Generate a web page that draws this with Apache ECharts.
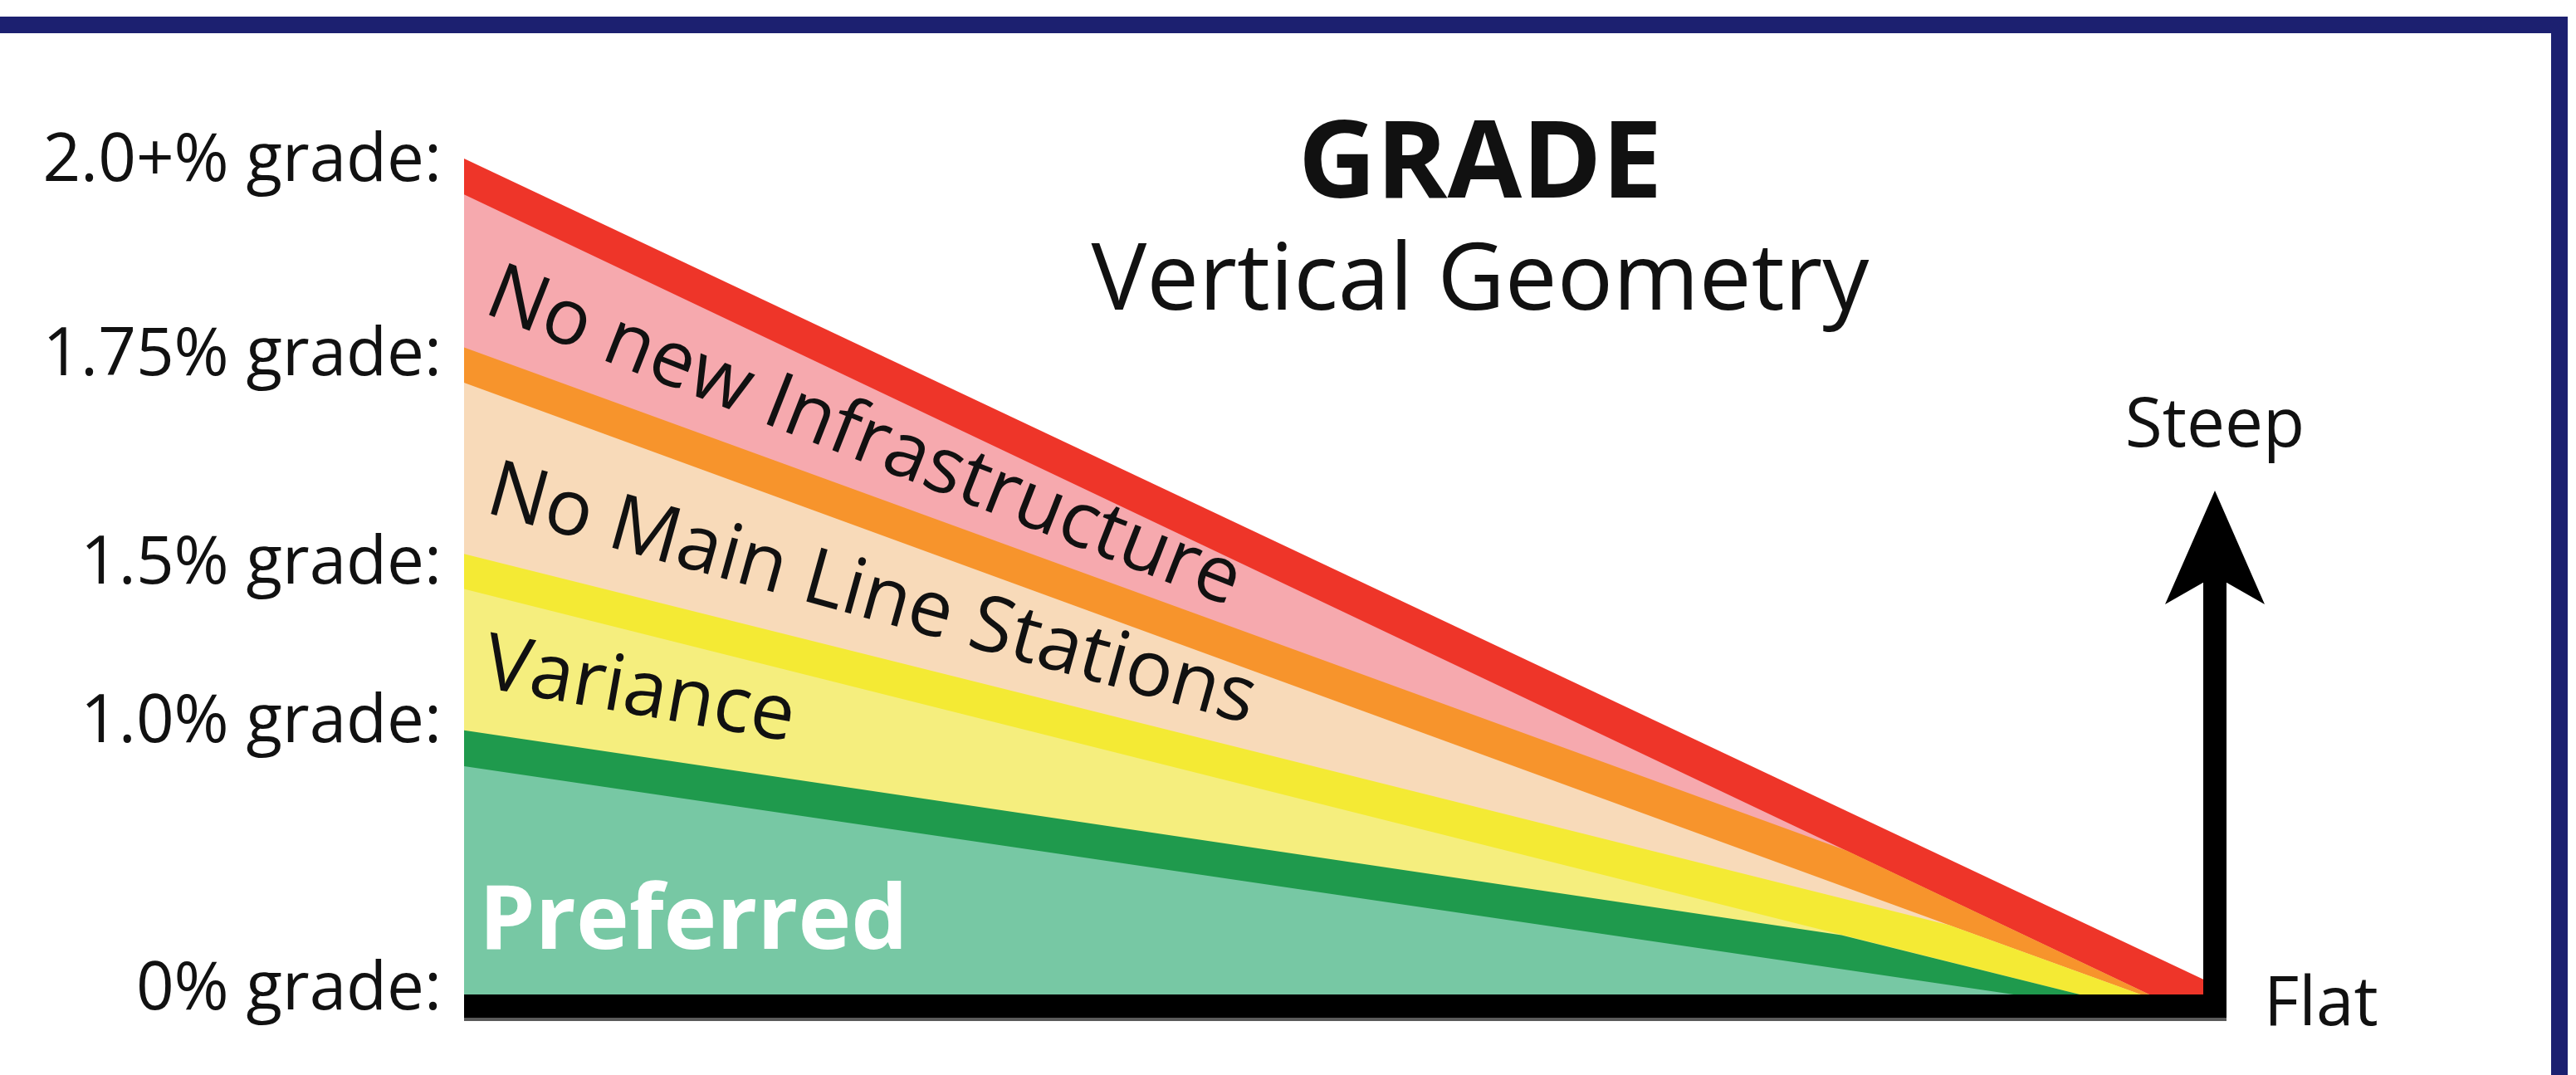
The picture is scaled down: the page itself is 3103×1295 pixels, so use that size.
<!DOCTYPE html>
<html>
<head>
<meta charset="utf-8">
<script src="https://cdn.jsdelivr.net/npm/echarts@6/dist/echarts.min.js"></script>
<style>
  html, body { margin: 0; padding: 0; background: #ffffff; }
  #chart { width: 3103px; height: 1295px; }
</style>
</head>
<body>
<div id="chart"></div>
<script>
// ---------------- data ----------------
// x: distance along the profile (0 = left edge, 100 = meeting point)
// y: relative rise of each boundary (0 = flat base, 100 = top of 2.0+% line)
const gradeLabels = ['0% grade:', '1.0% grade:', '1.5% grade:', '1.75% grade:', '2.0+% grade:'];
const gradeLevels = [0.5, 32.5, 51.4, 76.3, 99.6];

const redTop       = [[0, 100], [100, 1.8]];
const redBottom    = [[0, 95.7], [96.9, 0], [100, 0]];
const orangeTop    = [[0, 77.4], [79.5, 17.2], [96.9, 0], [100, 0]];
const orangeBottom = [[0, 73.2], [85.4, 8.3], [96.4, 0], [100, 0]];
const yellowTop    = [[0, 52.7], [85.4, 8.3], [96.4, 0], [100, 0]];
const yellowBottom = [[0, 48.5], [92.9, 0], [100, 0]];
const greenTop     = [[0, 31.6], [79.2, 7.1], [92.9, 0], [100, 0]];
const greenBottom  = [[0, 27.3], [89.1, 0], [100, 0]];

const zoneNames  = ['No new Infrastructure', 'No Main Line Stations', 'Variance', 'Preferred'];
const zoneCoords = [[1.5, 84.1], [1.46, 60.3], [1.19, 39.4], [0.86, 8.54]];
const zoneAngles = [-21.5, -15.5, -10, 0];

const titleText = 'GRADE';
const subtitleText = 'Vertical Geometry';
const steepText = 'Steep';
const flatText = 'Flat';

// ---------------- chart ----------------
const FONT = "'Open Sans', 'Noto Sans', 'DejaVu Sans', sans-serif";
const chart = echarts.init(document.getElementById('chart'), null, { renderer: 'canvas' });

function zoneMark(i, color, bold, size) {
  return {
    symbol: 'circle',
    symbolSize: 1,
    silent: true,
    animation: false,
    itemStyle: { color: 'rgba(0,0,0,0)' },
    label: {
      show: true,
      position: 'inside',
      align: 'left',
      verticalAlign: 'middle',
      rotate: zoneAngles[i],
      formatter: zoneNames[i],
      color: color,
      fontFamily: FONT,
      fontWeight: bold ? 'bold' : 'normal',
      fontSize: size,
      textBorderWidth: 0
    },
    data: [{ name: zoneNames[i], coord: zoneCoords[i] }]
  };
}

function area(name, data, color, mark) {
  const s = {
    name: name,
    type: 'line',
    xAxisIndex: 0,
    yAxisIndex: 0,
    data: data,
    symbol: 'none',
    showSymbol: false,
    smooth: false,
    lineStyle: { width: 0 },
    areaStyle: { color: color, opacity: 1 },
    silent: true,
    animation: false
  };
  if (mark) s.markPoint = mark;
  return s;
}

const option = {
  backgroundColor: '#ffffff',
  animation: false,
  title: [
    {
      text: titleText, left: 1783, top: 136, textAlign: 'center', padding: 0,
      textStyle: { fontFamily: FONT, fontWeight: 'bold', fontSize: 130, color: '#111111' }
    },
    {
      text: subtitleText, left: 1783, top: 285, textAlign: 'center', padding: 0,
      textStyle: { fontFamily: FONT, fontWeight: 'normal', fontSize: 112, color: '#111111' }
    }
  ],
  grid: [
    { left: 559, top: 191, width: 2095, height: 1007, outerBoundsMode: 'none', containLabel: false },
    { left: 559, top: 660, width: 2123, height: 538, outerBoundsMode: 'none', containLabel: false }
  ],
  xAxis: [
    { type: 'value', gridIndex: 0, min: 0, max: 100, show: false },
    {
      type: 'value', gridIndex: 1, min: 0, max: 1, offset: 14, position: 'bottom',
      axisLine: {
        show: true, onZero: false,
        lineStyle: { color: '#000000', width: 28, cap: 'butt', shadowColor: '#5a5a5a', shadowOffsetY: 4, shadowBlur: 0 }
      },
      axisTick: { show: false }, axisLabel: { show: false }, splitLine: { show: false },
      name: flatText, nameLocation: 'end', nameGap: 45,
      nameTextStyle: { fontFamily: FONT, fontSize: 82, color: '#111111' }
    }
  ],
  yAxis: [
    {
      type: 'value', gridIndex: 0, min: 0, max: 100,
      axisLine: { show: false, onZero: false }, axisTick: { show: false }, splitLine: { show: false },
      axisLabel: {
        show: true,
        customValues: gradeLevels,
        showMinLabel: true, showMaxLabel: true,
        margin: 27,
        fontFamily: FONT, fontSize: 80, color: '#111111',
        formatter: function (v) {
          let best = 0, d = Infinity;
          for (let i = 0; i < gradeLevels.length; i++) {
            const dd = Math.abs(gradeLevels[i] - v);
            if (dd < d) { d = dd; best = i; }
          }
          return gradeLabels[best];
        }
      }
    },
    {
      type: 'value', gridIndex: 1, min: 0, max: 1, position: 'right', offset: -14,
      axisLine: {
        show: true, onZero: false, symbol: ['none', 'arrow'], symbolSize: [90, 137],
        symbolOffset: [0, 69],
        lineStyle: { color: '#000000', width: 28, cap: 'butt' }
      },
      axisTick: { show: false }, axisLabel: { show: false }, splitLine: { show: false },
      name: steepText, nameLocation: 'end', nameGap: 104,
      nameTextStyle: { fontFamily: FONT, fontSize: 82, color: '#111111' }
    }
  ],
  graphic: [
    { type: 'rect', z: 100, silent: true, shape: { x: 0, y: 20, width: 3093, height: 20 }, style: { fill: '#1c2070' } },
    { type: 'rect', z: 100, silent: true, shape: { x: 3073, y: 20, width: 20, height: 1275 }, style: { fill: '#1c2070' } }
  ],
  series: [
    area('2.0+% limit', redTop, '#ee3529'),
    area('No new Infrastructure', redBottom, '#f6a9ae', zoneMark(0, '#111111', false, 94)),
    area('1.75% limit', orangeTop, '#f7942c'),
    area('No Main Line Stations', orangeBottom, '#f8dab9', zoneMark(1, '#111111', false, 94)),
    area('1.5% limit', yellowTop, '#f4ea34'),
    area('Variance', yellowBottom, '#f5ee7e', zoneMark(2, '#111111', false, 94)),
    area('1.0% limit', greenTop, '#1f9a4d'),
    area('Preferred', greenBottom, '#77c8a4', zoneMark(3, '#ffffff', true, 108))
  ]
};

chart.setOption(option);
</script>
</body>
</html>
